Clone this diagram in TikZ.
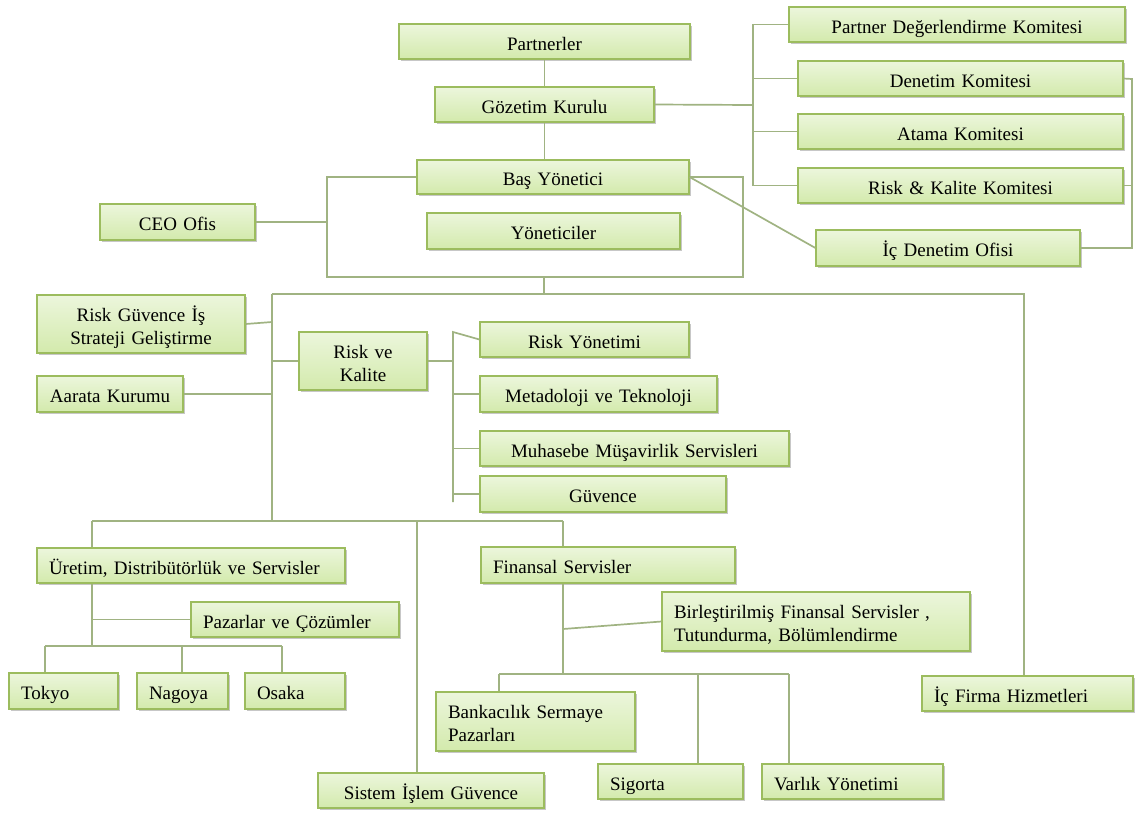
\documentclass[tikz,border=0pt]{standalone}
\usepackage{fontspec}
\setmainfont{Liberation Serif}
\usetikzlibrary{shadows}

\definecolor{boxline}{HTML}{9CBC5E}
\definecolor{boxtop}{HTML}{ECF6DC}
\definecolor{boxbot}{HTML}{D3EAAC}
\definecolor{wirecol}{HTML}{A0B382}

% fixed top and bottom of each label so every box sets its text alike
\newcommand\labeltop{\rule{0pt}{22pt}}
\newcommand\labelbottom{\rule[-5pt]{0pt}{5pt}}

\tikzset{
  orgbox/.style={rectangle, draw=boxline, line width=1.1pt,
    top color=boxtop, bottom color=boxbot,
    drop shadow={shadow xshift=1.6pt, shadow yshift=-2pt, fill=black, opacity=0.22},
    font=\fontsize{19}{23}\selectfont, inner sep=0pt,
    execute at begin node=\labeltop, execute at end node=\labelbottom},
  wire/.style={draw=wirecol, line width=1.7pt, line join=miter},
}

% box: name, x1, y1, x2, y2, alignment, text
\newcommand\orgnode[7]{%
  \pgfmathsetmacro\obw{#4-#2}%
  \pgfmathsetmacro\obh{#5-#3}%
  \pgfmathsetmacro\otw{#4-#2-24}%
  \node[orgbox, minimum width=\obw pt, minimum height=\obh pt,
        text width=\otw pt, align=#6] (#1) at ({(#2+#4)/2},{(#3+#5)/2}) {#7};}

\begin{document}
\begin{tikzpicture}[x=1pt, y=-1pt]
\useasboundingbox (0,0) rectangle (1141,812);

% --- top of the organisation
\orgnode{partners}{399}{24}{690}{59}{center}{Partnerler}
\orgnode{gozetim}{435}{87}{654}{122}{center}{Gözetim Kurulu}
\orgnode{bas}{417}{160}{689}{194}{center}{Baş Yönetici}
\orgnode{yon}{427}{213}{680}{249}{center}{Yöneticiler}
\orgnode{ceo}{100}{204}{255}{240}{center}{CEO Ofis}

% --- committees
\orgnode{pdk}{789}{7}{1125}{42}{center}{Partner Değerlendirme Komitesi}
\orgnode{dk}{798}{61}{1123}{96}{center}{Denetim Komitesi}
\orgnode{ak}{798}{114}{1123}{149}{center}{Atama Komitesi}
\orgnode{rkk}{798}{168}{1123}{203}{center}{Risk \& Kalite Komitesi}
\orgnode{icd}{816}{230}{1080}{266}{center}{İç Denetim Ofisi}

% --- risk and quality
\orgnode{rg}{37}{295}{245}{353}{center}{Risk Güvence İş\\Strateji Geliştirme}
\orgnode{rvk}{299}{332}{427}{390}{center}{Risk ve\\Kalite}
\orgnode{aar}{37}{376}{183}{412}{center}{Aarata Kurumu}
\orgnode{ryo}{480}{322}{689}{357}{center}{Risk Yönetimi}
\orgnode{met}{480}{376}{717}{412}{center}{Metadoloji ve Teknoloji}
\orgnode{muh}{480}{431}{789}{466}{center}{Muhasebe Müşavirlik Servisleri}
\orgnode{guv}{480}{476}{726}{512}{center}{Güvence}

% --- business units
\orgnode{uret}{37}{548}{345}{583}{left}{Üretim, Distribütörlük ve Servisler}
\orgnode{paz}{191}{602}{399}{637}{left}{Pazarlar ve Çözümler}
\orgnode{tok}{9}{673}{118}{709}{left}{Tokyo}
\orgnode{nag}{137}{673}{228}{709}{left}{Nagoya}
\orgnode{osa}{245}{673}{345}{709}{left}{Osaka}
\orgnode{fin}{481}{547}{735}{583}{left}{Finansal Servisler}
\orgnode{bfs}{662}{592}{970}{651}{left}{Birleştirilmiş Finansal Servisler ,\\Tutundurma, Bölümlendirme}
\orgnode{bank}{436}{692}{635}{751}{left}{Bankacılık Sermaye\\Pazarları}
\orgnode{sig}{598}{764}{743}{799}{left}{Sigorta}
\orgnode{var}{762}{764}{943}{799}{left}{Varlık Yönetimi}
\orgnode{sis}{318}{773}{544}{808}{center}{Sistem İşlem Güvence}
\orgnode{icf}{922}{676}{1133}{711}{left}{İç Firma Hizmetleri}

% --- junction points
\coordinate (bl) at (327,277);
\coordinate (br) at (743,277);
\coordinate (cl) at (753,105);
\coordinate (cr) at (1132,79);
\coordinate (mb) at (544,294);
\coordinate (m1) at (272,294);
\coordinate (m2) at (1024,294);
\coordinate (lb) at (272,521);
\coordinate (lbl) at (92,521);
\coordinate (lbs) at (417,521);
\coordinate (lbr) at (563,521);
\coordinate (rk) at (453,332);
\coordinate (rkb) at (453,502);
\coordinate (ub) at (92,646);
\coordinate (ubl) at (45,646);
\coordinate (ubm) at (182,646);
\coordinate (ubr) at (282,646);
\coordinate (fb) at (563,674);
\coordinate (fbl) at (499,674);
\coordinate (fbm) at (698,674);
\coordinate (fbr) at (789,674);
\coordinate (fj) at (563,629);
\coordinate (rgj) at (272,322);

% --- connectors
\draw[wire] (partners.south) -- (gozetim.north);
\draw[wire] (gozetim.south) -- (gozetim.south |- bas.north);

% frame round the executive boxes
\draw[wire] (bas.west) -- (bas.west -| bl) -- (bl) -- (br) -- (br |- bas.east) -- (bas.east);
\draw[wire] (ceo.east) -- (ceo.east -| bl);
\draw[wire] (bas.east) -- (icd.west);

% committee brackets
\draw[wire] (gozetim.east) -- (cl);
\draw[wire] (pdk.west) -- (pdk.west -| cl) -- (rkk.west -| cl) -- (rkk.west);
\draw[wire] (dk.west -| cl) -- (dk.west);
\draw[wire] (ak.west -| cl) -- (ak.west);
\draw[wire] (dk.east) -- (cr) -- (cr |- icd.east) -- (icd.east);
\draw[wire] (rkk.east) -- (rkk.east -| cr);

% main bus
\draw[wire] (br -| mb) -- (mb);
\draw[wire] (m1) -- (m2) -- (m2 |- icf.north);
\draw[wire] (m1) -- (lb);
\draw[wire] (rg.east) -- (rgj);
\draw[wire] (rvk.west) -- (rvk.west -| m1);
\draw[wire] (aar.east) -- (aar.east -| m1);

% risk and quality bracket
\draw[wire] (rvk.east) -- (rvk.east -| rk);
\draw[wire] (ryo.west) -- (rk) -- (rkb);
\draw[wire] (met.west -| rk) -- (met.west);
\draw[wire] (muh.west -| rk) -- (muh.west);
\draw[wire] (guv.west -| rk) -- (guv.west);

% lower bus
\draw[wire] (lbl) -- (lbr);
\draw[wire] (lbl) -- (lbl |- uret.north);
\draw[wire] (lbs) -- (lbs |- sis.north);
\draw[wire] (lbr) -- (lbr |- fin.north);

% production branch
\draw[wire] (uret.south -| ub) -- (ub);
\draw[wire] (paz.west -| ub) -- (paz.west);
\draw[wire] (ubl) -- (ubr);
\draw[wire] (ubl) -- (ubl |- tok.north);
\draw[wire] (ubm) -- (ubm |- nag.north);
\draw[wire] (ubr) -- (ubr |- osa.north);

% financial branch
\draw[wire] (fin.south -| fb) -- (fb);
\draw[wire] (fj) -- (bfs.west);
\draw[wire] (fbl) -- (fbr);
\draw[wire] (fbl) -- (fbl |- bank.north);
\draw[wire] (fbm) -- (fbm |- sig.north);
\draw[wire] (fbr) -- (fbr |- var.north);
\end{tikzpicture}
\end{document}
